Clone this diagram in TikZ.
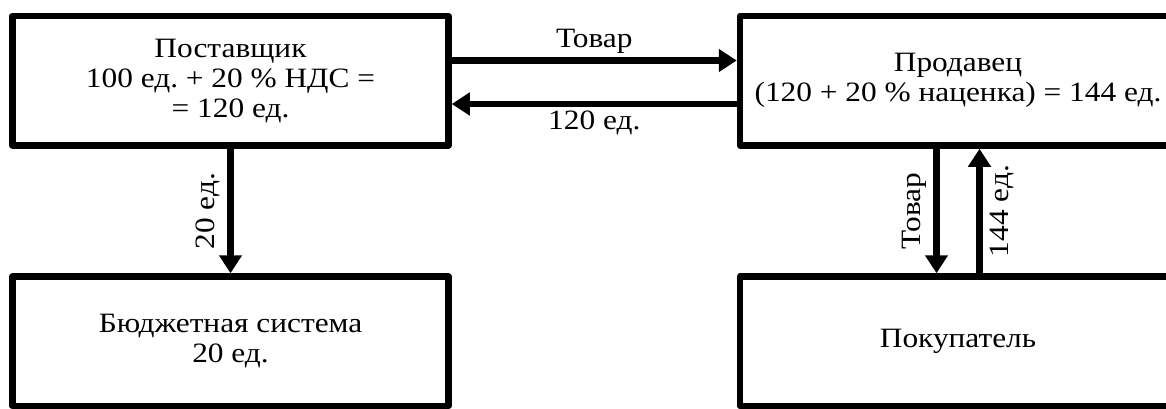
\documentclass[tikz,border=0pt]{standalone}
\usepackage{fontspec}
\setmainfont[FakeStretch=1.12]{Liberation Serif}
\usetikzlibrary{arrows.meta}
\frenchspacing

\begin{document}
\begin{tikzpicture}[x=1pt, y=1pt]
	\tikzset{bloc/.style={rectangle, draw=black, line width=6.5pt, line join=round, align=center, font=\fontsize{28}{30}\selectfont, minimum width=436pt, minimum height=129.5pt, inner sep=0pt},
	fleche/.style={line width=6.5pt, -{Triangle[width=22pt, length=18pt]}},
	etiq/.style={font=\fontsize{28}{30}\selectfont, inner sep=4pt},
	etiqv/.style={etiq, midway, rotate=90, inner sep=7pt}};

	\useasboundingbox (0, 0) rectangle (1166, -408);

	\node[bloc] (postav) at (230.5, -80.75) {Поставщик\\100 ед. + 20 \% НДС =\\= 120 ед.};
	\node[bloc] (prodav) at (958, -80.75) {Продавец\\(120 + 20 \% наценка) = 144 ед.};
	\node[bloc] (budget) at (230.5, -341.25) {Бюджетная система\\20 ед.};
	\node[bloc] (pokup) at (958, -341.25) {Покупатель};

	\draw[fleche] ([yshift=20.25pt]postav.east) to node[etiq, midway, above] {Товар} ([yshift=20.25pt]prodav.west);
	\draw[fleche] ([yshift=-23.25pt]prodav.west) to node[etiq, midway, below] {120 ед.} ([yshift=-23.25pt]postav.east);

	\draw[fleche] (postav.south) to node[etiqv, anchor=south] {20 ед.} (budget.north);

	\draw[fleche] ([xshift=-21.5pt]prodav.south) to node[etiqv, anchor=south] {Товар} ([xshift=-21.5pt]pokup.north);
	\draw[fleche] ([xshift=21.5pt]pokup.north) to node[etiqv, anchor=north] {144 ед.} ([xshift=21.5pt]prodav.south);
\end{tikzpicture}
\end{document}
